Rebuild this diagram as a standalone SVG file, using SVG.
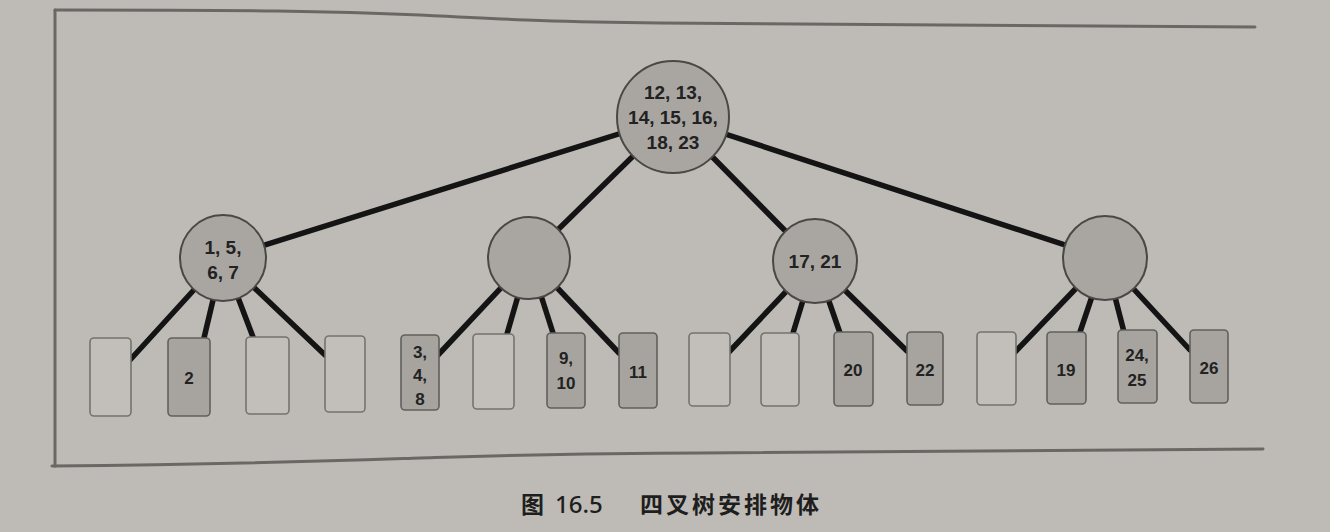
<svg xmlns="http://www.w3.org/2000/svg" width="1330" height="532" viewBox="0 0 1330 532">
<style>
.frame{fill:none;stroke:#6a6865;stroke-width:3;stroke-linecap:round}
.edge{stroke:#141414;stroke-width:5.5;stroke-linecap:round;fill:none}
.circ{fill:#a9a6a1;stroke:#4a4845;stroke-width:2}
.leafE{fill:#c2bfba;stroke:#75736f;stroke-width:1.6}
.leafF{fill:#a7a49f;stroke:#62605c;stroke-width:1.6}
.t{font-family:"Liberation Sans",Arial,sans-serif;font-weight:bold;fill:#222;text-anchor:middle}
.big{font-size:19px}
.sm{font-size:17px}
.cap{font-family:"Noto Sans CJK SC","Noto Sans",sans-serif;font-weight:bold;font-size:23px;fill:#1e1e1e}
</style>
<rect x="0" y="0" width="1330" height="532" fill="#bebbb6"/>
<g id="frame">
<path class="frame" d="M55,10 C250,10 330,11 420,15 C520,20 560,22 660,23 L1255,27"/>
<path class="frame" d="M55,10 L55,466"/>
<path class="frame" d="M52,466 C250,464 330,461 420,458 C520,455 580,453 700,453 L1263,449"/>
</g>
<g id="connectors">
<line class="edge" x1="673" y1="117" x2="223" y2="258"/>
<line class="edge" x1="673" y1="117" x2="529" y2="258"/>
<line class="edge" x1="673" y1="117" x2="815" y2="261"/>
<line class="edge" x1="673" y1="117" x2="1105" y2="258"/>
<line class="edge" x1="223" y1="258" x2="130" y2="360"/>
<line class="edge" x1="223" y1="258" x2="204" y2="338"/>
<line class="edge" x1="223" y1="258" x2="253" y2="337"/>
<line class="edge" x1="223" y1="258" x2="325" y2="355"/>
<line class="edge" x1="529" y1="258" x2="438" y2="355"/>
<line class="edge" x1="529" y1="258" x2="507" y2="334"/>
<line class="edge" x1="529" y1="258" x2="553" y2="333"/>
<line class="edge" x1="529" y1="258" x2="619" y2="353"/>
<line class="edge" x1="815" y1="261" x2="729" y2="352"/>
<line class="edge" x1="815" y1="261" x2="793" y2="333"/>
<line class="edge" x1="815" y1="261" x2="840" y2="333"/>
<line class="edge" x1="815" y1="261" x2="907" y2="351"/>
<line class="edge" x1="1105" y1="258" x2="1015" y2="352"/>
<line class="edge" x1="1105" y1="258" x2="1080" y2="332"/>
<line class="edge" x1="1105" y1="258" x2="1124" y2="332"/>
<line class="edge" x1="1105" y1="258" x2="1190" y2="350"/>
</g>
<g id="root">
<circle class="circ" cx="673" cy="117" r="56"/>
<text class="t big" x="673" y="99">12, 13,</text>
<text class="t big" x="673" y="124">14, 15, 16,</text>
<text class="t big" x="673" y="149">18, 23</text>
</g>
<g id="n1">
<circle class="circ" cx="223" cy="258" r="43"/>
<text class="t big" x="223" y="254">1, 5,</text>
<text class="t big" x="223" y="279">6, 7</text>
</g>
<g id="n2">
<circle class="circ" cx="529" cy="258" r="41"/>
</g>
<g id="n3">
<circle class="circ" cx="815" cy="261" r="42"/>
<text class="t big" x="815" y="268">17, 21</text>
</g>
<g id="n4">
<circle class="circ" cx="1105" cy="258" r="42"/>
</g>
<g id="l1"><rect class="leafE" x="90" y="338" width="41" height="78" rx="4"/></g>
<g id="l2"><rect class="leafF" x="168" y="338" width="42" height="78" rx="4"/><text class="t sm" x="189" y="384">2</text></g>
<g id="l3"><rect class="leafE" x="246" y="337" width="43" height="77" rx="4"/></g>
<g id="l4"><rect class="leafE" x="325" y="336" width="40" height="76" rx="4"/></g>
<g id="l5"><rect class="leafF" x="401" y="335" width="38" height="75" rx="4"/>
<text class="t sm" x="420" y="358">3,</text><text class="t sm" x="420" y="381">4,</text><text class="t sm" x="420" y="405">8</text></g>
<g id="l6"><rect class="leafE" x="473" y="334" width="41" height="75" rx="4"/></g>
<g id="l7"><rect class="leafF" x="547" y="333" width="38" height="75" rx="4"/>
<text class="t sm" x="566" y="364">9,</text><text class="t sm" x="566" y="389">10</text></g>
<g id="l8"><rect class="leafF" x="619" y="333" width="38" height="75" rx="4"/><text class="t sm" x="638" y="378">11</text></g>
<g id="l9"><rect class="leafE" x="689" y="333" width="41" height="73" rx="4"/></g>
<g id="l10"><rect class="leafE" x="761" y="333" width="38" height="73" rx="4"/></g>
<g id="l11"><rect class="leafF" x="834" y="332" width="39" height="74" rx="4"/><text class="t sm" x="853" y="376">20</text></g>
<g id="l12"><rect class="leafF" x="907" y="332" width="36" height="73" rx="4"/><text class="t sm" x="925" y="376">22</text></g>
<g id="l13"><rect class="leafE" x="977" y="332" width="39" height="73" rx="4"/></g>
<g id="l14"><rect class="leafF" x="1047" y="332" width="39" height="72" rx="4"/><text class="t sm" x="1066" y="376">19</text></g>
<g id="l15"><rect class="leafF" x="1118" y="330" width="39" height="73" rx="4"/>
<text class="t sm" x="1137" y="361">24,</text><text class="t sm" x="1137" y="386">25</text></g>
<g id="l16"><rect class="leafF" x="1190" y="330" width="38" height="73" rx="4"/><text class="t sm" x="1209" y="374">26</text></g>
<g id="caption">
<text class="cap" x="521" y="513">图</text>
<text class="cap" x="555" y="513" style="font-family:'Noto Sans','Liberation Sans',sans-serif;font-weight:500;font-size:24px">16.5</text>
<text class="cap" x="640" y="513" letter-spacing="3">四叉树安排物体</text>
</g>
</svg>
